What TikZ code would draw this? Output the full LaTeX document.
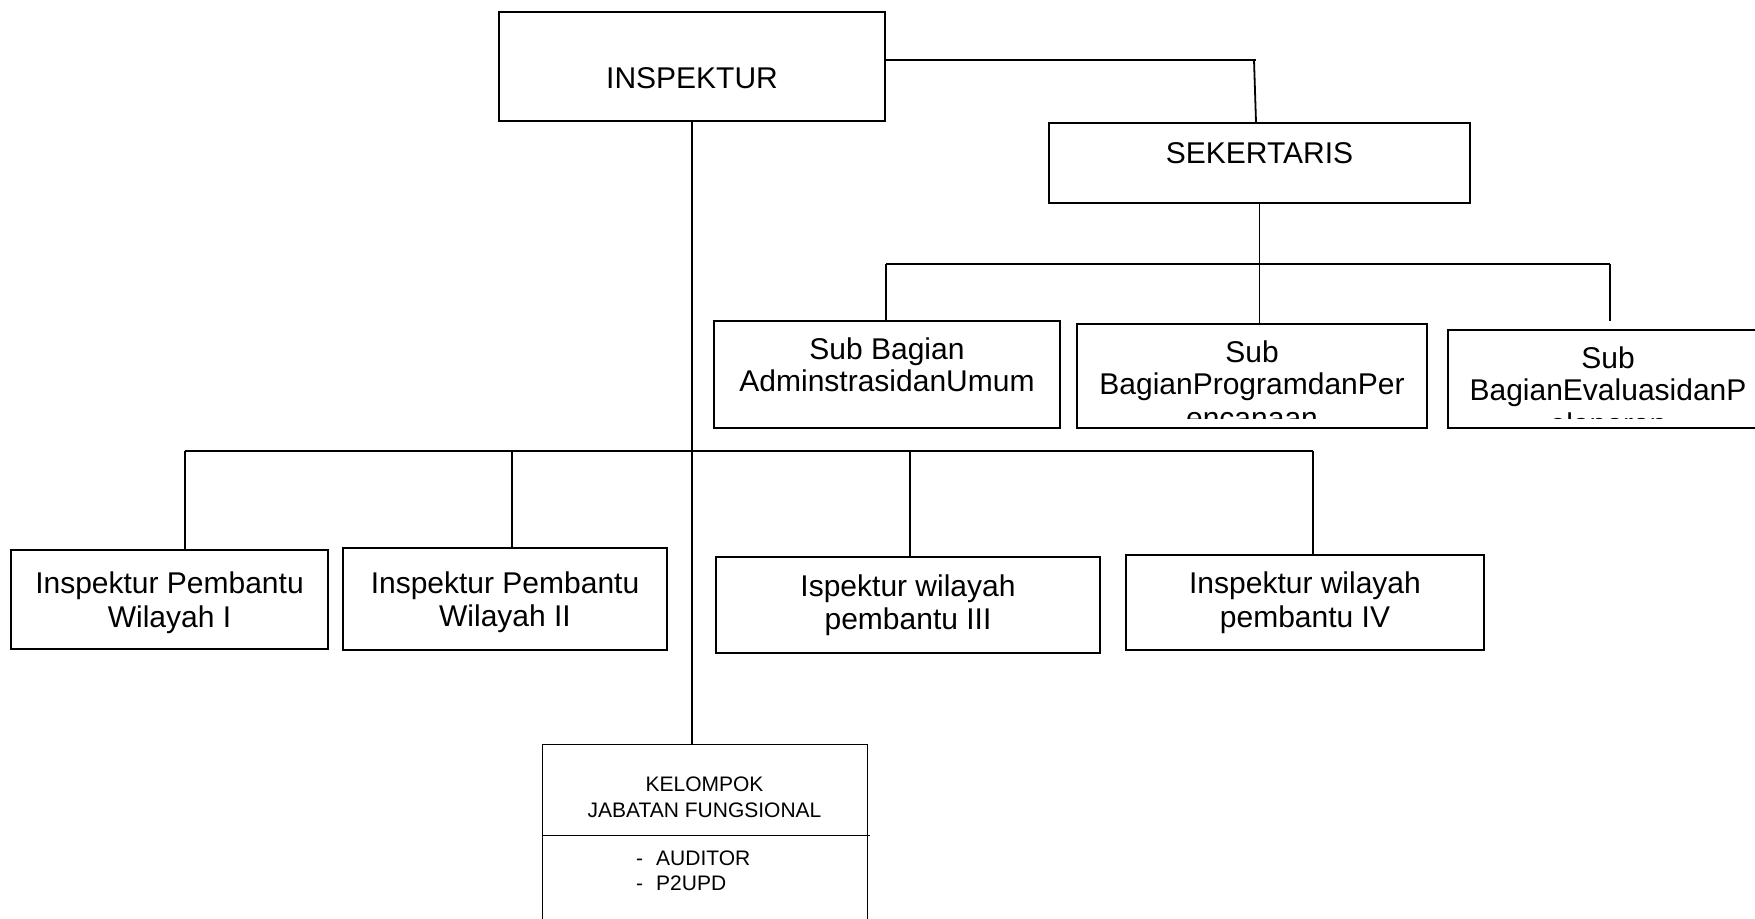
\documentclass[tikz,border=0pt]{standalone}
\usepackage{fontspec}
\setmainfont{Liberation Sans}
\begin{document}
\begin{tikzpicture}[x=1pt, y=-1pt,
    box/.style={draw, line width=1.8pt, inner sep=0pt, align=center,
        font=\fontsize{30}{33.5}\selectfont},
    link/.style={line width=1.8pt},
    subtext/.style={path picture={
        \clip ([yshift=10pt]path picture bounding box.south west)
            rectangle (path picture bounding box.north east);
        \node[inner sep=0pt] at ([yshift=-117pt]path picture bounding box.north)
            {\parbox[c][200pt][t]{330pt}{\centering
             \fontsize{30}{31.5}\selectfont #1}};}}]
    % Frame
    \useasboundingbox (0,0) rectangle (1755,918);

    % Inspektur and sekertaris
    \node[box, minimum width=386pt, minimum height=109pt,
        text height=48pt, text depth=5pt] (insp) at (692,66.5) {INSPEKTUR};
    \node[box, minimum width=421pt, minimum height=80pt,
        text height=22pt, text depth=22pt] (sek) at (1259.5,163) {SEKERTARIS};

    % Sub bagian
    \node[box, minimum width=346pt, minimum height=107pt,
        subtext={Sub Bagian\\AdminstrasidanUmum}] (sub1) at (887,374.5) {};
    \node[box, minimum width=350pt, minimum height=104pt,
        subtext={Sub\\BagianProgramdanPer\\[3pt]encanaan}] (sub2) at (1252,376) {};
    \node[box, minimum width=320pt, minimum height=98pt,
        subtext={Sub\\BagianEvaluasidanP\\[3pt]elaporan}] (sub3) at (1608,379) {};

    % Inspektur pembantu
    \node[box, minimum width=317pt, minimum height=99pt, text depth=0pt] (wil1)
        at (169.5,599.5) {Inspektur Pembantu\\Wilayah I};
    \node[box, minimum width=324pt, minimum height=102pt, text depth=0pt] (wil2)
        at (505,599) {Inspektur Pembantu\\Wilayah II};
    \node[box, minimum width=384pt, minimum height=96pt] (wil3)
        at (908,605) {Ispektur wilayah\\pembantu III};
    \node[box, minimum width=358pt, minimum height=95pt] (wil4)
        at (1305,602.5) {Inspektur wilayah\\pembantu IV};

    % Kelompok jabatan fungsional
    \node[draw, line width=1pt, minimum width=325pt, minimum height=220pt,
        anchor=north] (kjf) at (704.5,744) {};
    \coordinate (kjfsplit) at (0,835);
    \draw[line width=1pt] (kjf.west |- kjfsplit) -- ([xshift=2pt]kjf.east |- kjfsplit);
    \node[font=\fontsize{21}{26}\selectfont, align=center, inner sep=0pt]
        (kjfhead) at (704.5,797) {KELOMPOK\\JABATAN FUNGSIONAL};
    \node[font=\fontsize{21}{24.5}\selectfont, anchor=north west, inner sep=0pt]
        (kjflist) at (636,848.5)
        {\begin{tabular}{@{}l@{\hspace{13pt}}l@{}}-&AUDITOR\\-&P2UPD\end{tabular}};

    % Lines
    \coordinate (sekturn) at (1256,60);
    \draw[link] (insp.east |- sekturn) -- (sekturn);
    \draw[link] ([xshift=-2pt]sekturn) -- (sekturn |- sek.north);
    \draw[link] (insp.south) -- (insp.south |- kjf.north);

    \coordinate (subbusL) at (886,264);
    \coordinate (subbusR) at (1610,264);
    \draw[link] (subbusL) -- (subbusR);
    \draw[link] (subbusL) -- (subbusL |- sub1.north);
    \draw[link] (sek.south) -- (sek.south |- sub2.north);
    \draw[link, shorten >=8pt] (subbusR) -- (subbusR |- sub3.north);

    \coordinate (wilbusL) at (185,451);
    \coordinate (wilbusR) at (1313,451);
    \draw[link] (wilbusL) -- (wilbusR);
    \foreach \x/\w in {185/wil1, 512/wil2, 910/wil3, 1313/wil4}
        \draw[link] (\x,451) -- (\x,451 |- \w.north);
\end{tikzpicture}
\end{document}
